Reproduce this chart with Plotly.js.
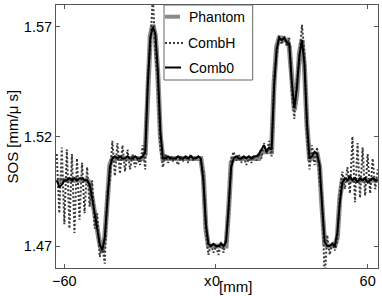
<!DOCTYPE html>
<html>
<head>
<meta charset="utf-8">
<script src="https://cdn.plot.ly/plotly-3.0.1.min.js"></script>
<style>
html,body{margin:0;padding:0;background:#fff;}
#chart{width:382px;height:296px;}
</style>
</head>
<body>
<div id="chart"></div>
<script>
// x positions [mm]
var xPos = [];
for (var i = -63; i <= 64; i++) xPos.push(i);

var phantom = [
1.500,1.500,1.500,1.500,1.500,1.500,1.500,1.500,1.500,1.500,1.500,1.500,1.500, // -63..-51
1.499,1.493,1.485,1.478,1.471,1.467,1.474,1.492,1.507,                         // -50..-42
1.510,1.510,1.510,1.510,1.510,1.510,1.510,1.510,1.510,1.510,1.510,1.510,1.510, // -41..-29
1.512,1.545,1.566,1.571,1.566,1.548,1.520,                                     // -28..-22
1.510,1.510,1.510,1.510,1.510,1.510,1.510,1.510,1.510,1.510,1.510,1.510,1.510,1.510,1.510,1.510, // -21..-6
1.502,1.478,1.470,1.470,1.470,1.470,1.470,1.470,1.470,1.470,                   // -5..4
1.487,1.508,                                                                   // 5..6
1.510,1.510,1.510,1.510,1.510,1.510,1.510,1.510,1.510,1.510,1.510,             // 7..17
1.513,1.513,1.513,1.513,1.513,                                                 // 18..22
1.545,1.561,1.565,1.565,1.564,1.564,1.561,1.543,1.532,1.540,1.558,1.564,1.552,1.525, // 23..36
1.510,1.510,1.512,1.512,1.506,1.487,1.471,                                     // 37..43
1.470,1.470,1.470,1.470,1.474,1.492,                                           // 44..49
1.500,1.500,1.500,1.500,1.500,1.500,1.500,1.500,1.500,1.500,1.500,1.500,1.500,1.500,1.500 // 50..64
];

var combH = [
1.512,1.485,1.515,1.480,1.514,1.478,1.512,1.476,1.510,1.482,1.508,1.485,1.506, // -63..-51
1.488,1.500,1.478,1.485,1.465,1.470,1.462,1.495,1.500,                         // -50..-42
1.518,1.502,1.517,1.503,1.516,1.504,1.514,1.505,1.512,1.506,1.510,1.507,1.516, // -41..-29
1.505,1.548,1.560,1.585,1.558,1.545,1.515,                                     // -28..-22
1.506,1.512,1.508,1.511,1.509,1.510,1.507,1.511,1.509,1.511,1.508,1.512,1.509,1.511,1.510,1.509, // -21..-6
1.504,1.476,1.466,1.471,1.467,1.470,1.466,1.472,1.467,1.474,                   // -5..4
1.484,1.510,                                                                   // 5..6
1.513,1.509,1.512,1.508,1.511,1.507,1.510,1.508,1.511,1.509,1.512,             // 7..17
1.510,1.517,1.512,1.518,1.511,                                                 // 18..22
1.548,1.558,1.566,1.562,1.566,1.561,1.565,1.540,1.528,1.546,1.555,1.571,1.558,1.520, // 23..36
1.505,1.516,1.507,1.515,1.500,1.492,1.455,                                     // 37..43
1.475,1.466,1.472,1.468,1.472,1.495,                                           // 44..49
1.504,1.496,1.506,1.494,1.520,1.490,1.517,1.492,1.515,1.493,1.512,1.494,1.510,1.496,1.505 // 50..64
];

var comb0 = [
1.500,1.497,1.498,1.500,1.500,1.501,1.500,1.501,1.500,1.501,1.501,1.500,1.500, // -63..-51
1.498,1.492,1.485,1.478,1.471,1.468,1.474,1.490,1.506,                         // -50..-42
1.510,1.511,1.510,1.511,1.510,1.510,1.511,1.510,1.510,1.511,1.510,1.510,1.511, // -41..-29
1.513,1.543,1.565,1.570,1.567,1.550,1.522,                                     // -28..-22
1.510,1.510,1.511,1.510,1.510,1.510,1.511,1.510,1.510,1.511,1.510,1.511,1.510,1.510,1.511,1.510, // -21..-6
1.500,1.480,1.471,1.470,1.471,1.470,1.470,1.471,1.470,1.472,                   // -5..4
1.488,1.506,                                                                   // 5..6
1.510,1.511,1.510,1.510,1.511,1.510,1.511,1.510,1.511,1.511,1.512,             // 7..17
1.514,1.516,1.513,1.515,1.514,                                                 // 18..22
1.543,1.560,1.565,1.564,1.565,1.563,1.562,1.545,1.533,1.542,1.557,1.564,1.553,1.526, // 23..36
1.510,1.511,1.513,1.512,1.507,1.488,1.472,                                     // 37..43
1.470,1.470,1.471,1.470,1.476,1.490,                                           // 44..49
1.499,1.501,1.500,1.502,1.500,1.501,1.499,1.501,1.500,1.501,1.499,1.500,1.501,1.500,1.500 // 50..64
];

var seriesNames = ['Phantom', 'CombH', 'Comb0'];
var xTicks = [-60, 0, 60];
var xTickText = ['\u221260', '0', '60'];
var yTicks = [1.47, 1.52, 1.57];
var yTickText = ['1.47', '1.52', '1.57'];

var traces = [
  {x: xPos, y: phantom, name: seriesNames[0], mode: 'lines', line: {color: '#8a8a8a', width: 5}},
  {x: xPos, y: combH, name: seriesNames[1], mode: 'lines', line: {color: '#3a3a3a', width: 2, dash: '2px,2px'}},
  {x: xPos, y: comb0, name: seriesNames[2], mode: 'lines', line: {color: '#000000', width: 2}}
];

// plot area in pixels: x 56..378, y 5..268
function px(p){ return (p - 56) / 322; }
function py(p){ return (268 - p) / 263; }

var font = {family: 'Liberation Sans, Arial, sans-serif', color: '#000'};

var layout = {
  width: 382, height: 296,
  margin: {l: 56, r: 4, t: 5, b: 28, pad: 0},
  paper_bgcolor: '#fff', plot_bgcolor: '#fff',
  showlegend: false,
  font: {family: font.family, size: 14, color: '#000'},
  xaxis: {
    range: [-63.3, 64.1], tickvals: xTicks, ticktext: xTickText,
    ticks: 'inside', ticklen: 4, tickcolor: '#555', tickwidth: 1,
    showline: true, linecolor: '#555', linewidth: 1, mirror: 'ticks',
    showgrid: false, zeroline: false,
    tickfont: {family: font.family, size: 14.5, color: '#000'}
  },
  yaxis: {
    range: [1.46, 1.58], tickvals: yTicks, ticktext: yTickText,
    ticks: 'inside', ticklen: 4, tickcolor: '#555', tickwidth: 1,
    showline: true, linecolor: '#555', linewidth: 1, mirror: 'ticks',
    showgrid: false, zeroline: false,
    tickfont: {family: font.family, size: 14.5, color: '#000'}
  },
  shapes: [
    {type: 'rect', xref: 'paper', yref: 'paper', x0: px(164), x1: px(252.7), y0: py(80), y1: 1,
     fillcolor: '#fff', line: {color: '#666', width: 1}, layer: 'above'},
    {type: 'line', xref: 'paper', yref: 'paper', x0: px(165), x1: px(180), y0: py(16.7), y1: py(16.7),
     line: {color: '#8a8a8a', width: 4}, layer: 'above'},
    {type: 'line', xref: 'paper', yref: 'paper', x0: px(165), x1: px(185), y0: py(43), y1: py(43),
     line: {color: '#3a3a3a', width: 2, dash: '2px,2px'}, layer: 'above'},
    {type: 'line', xref: 'paper', yref: 'paper', x0: px(165), x1: px(181), y0: py(67.5), y1: py(67.5),
     line: {color: '#000', width: 2}, layer: 'above'}
  ],
  annotations: [
    {xref: 'paper', yref: 'paper', x: px(186.5), y: py(16.7), text: seriesNames[0], showarrow: false,
     xanchor: 'left', yanchor: 'middle', font: {family: font.family, size: 14, color: '#000'}},
    {xref: 'paper', yref: 'paper', x: px(185.5), y: py(43), text: seriesNames[1], showarrow: false,
     xanchor: 'left', yanchor: 'middle', font: {family: font.family, size: 14, color: '#000'}},
    {xref: 'paper', yref: 'paper', x: px(186.5), y: py(67.5), text: seriesNames[2], showarrow: false,
     xanchor: 'left', yanchor: 'middle', font: {family: font.family, size: 14, color: '#000'}},
    {xref: 'paper', yref: 'paper', x: px(12), y: 0.5, text: 'SOS [mm/\u03bc s]', showarrow: false,
     textangle: -90, xanchor: 'center', yanchor: 'middle', font: {family: font.family, size: 15, color: '#000'}},
    {xref: 'paper', yref: 'paper', x: px(208), y: py(280), text: 'x', showarrow: false,
     xanchor: 'center', yanchor: 'middle', font: {family: font.family, size: 15, color: '#000'}},
    {xref: 'paper', yref: 'paper', x: px(235), y: py(286), text: '[mm]', showarrow: false,
     xanchor: 'center', yanchor: 'middle', font: {family: font.family, size: 15, color: '#000'}}
  ]
};

Plotly.newPlot('chart', traces, layout, {staticPlot: true, displayModeBar: false});
</script>
</body>
</html>
